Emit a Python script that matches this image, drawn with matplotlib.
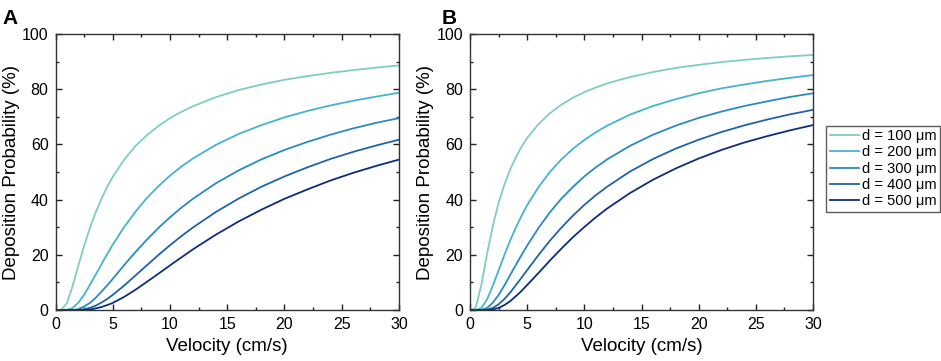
import matplotlib.pyplot as plt
from matplotlib.ticker import MultipleLocator

plt.rcParams['font.family'] = ['Liberation Sans', 'DejaVu Sans']

# Velocity grid (cm/s)
velocity = [0, 0.5, 1, 1.5, 2, 2.5, 3, 3.5, 4, 4.5, 5, 6, 7, 8, 9, 10, 11, 12,
            14, 16, 18, 20, 22, 24, 26, 28, 30]

labels = ['d = 100 \u03bcm', 'd = 200 \u03bcm', 'd = 300 \u03bcm', 'd = 400 \u03bcm', 'd = 500 \u03bcm']

# Panel A deposition probability (%)
a_d100 = [0, 0.07, 2.6, 8.8, 16.2, 23.3, 29.7, 35.3, 40.2, 44.5, 48.3, 54.5, 59.5, 63.4, 66.7, 69.5, 71.8, 73.8,
          77.1, 79.7, 81.7, 83.4, 84.7, 85.9, 86.9, 87.8, 88.6]
a_d200 = [0, 0, 0.07, 0.8, 2.7, 5.6, 9.1, 12.8, 16.5, 20.2, 23.7, 30.1, 35.7, 40.7, 44.9, 48.7, 52.0, 54.9,
          59.8, 63.8, 67.0, 69.8, 72.1, 74.1, 75.8, 77.3, 78.7]
a_d300 = [0, 0, 0, 0, 0.4, 1.3, 2.6, 4.4, 6.6, 8.9, 11.3, 16.3, 21.1, 25.6, 29.8, 33.6, 37.1, 40.3,
          45.9, 50.6, 54.6, 58.0, 60.9, 63.5, 65.8, 67.8, 69.5]
a_d400 = [0, 0, 0, 0, 0.07, 0.3, 0.8, 1.6, 2.7, 4.0, 5.5, 8.9, 12.6, 16.3, 20.0, 23.5, 26.8, 29.9,
          35.5, 40.4, 44.7, 48.4, 51.7, 54.7, 57.3, 59.6, 61.7]
a_d500 = [0, 0, 0, 0, 0, 0.07, 0.2, 0.6, 1.1, 1.8, 2.6, 4.8, 7.4, 10.3, 13.2, 16.2, 19.1, 22.0,
          27.3, 32.1, 36.4, 40.3, 43.7, 46.9, 49.7, 52.2, 54.5]

# Panel B deposition probability (%)
b_d100 = [0, 0.9, 9.3, 20.6, 30.6, 38.8, 45.4, 50.8, 55.3, 59.1, 62.3, 67.4, 71.3, 74.4, 76.9, 78.9, 80.6, 82.1,
          84.4, 86.2, 87.7, 88.8, 89.8, 90.6, 91.3, 91.9, 92.4]
b_d200 = [0, 0, 0.8, 4.0, 8.9, 14.4, 19.9, 25.1, 29.8, 34.1, 38.0, 44.6, 50.1, 54.6, 58.4, 61.6, 64.4, 66.8,
          70.8, 73.9, 76.4, 78.5, 80.3, 81.7, 83.0, 84.1, 85.1]
b_d300 = [0, 0, 0.07, 0.8, 2.7, 5.5, 8.9, 12.6, 16.3, 19.9, 23.4, 29.8, 35.5, 40.4, 44.6, 48.4, 51.7, 54.6,
          59.5, 63.5, 66.8, 69.6, 71.9, 73.9, 75.6, 77.2, 78.5]
b_d400 = [0, 0, 0, 0.16, 0.8, 2.1, 4.0, 6.3, 9.0, 11.7, 14.5, 20.0, 25.2, 29.9, 34.2, 38.1, 41.6, 44.7,
          50.2, 54.7, 58.5, 61.7, 64.5, 66.9, 69.0, 70.9, 72.5]
b_d500 = [0, 0, 0, 0, 0.25, 0.8, 1.8, 3.2, 5.0, 6.9, 9.1, 13.5, 18.0, 22.3, 26.4, 30.1, 33.6, 36.8,
          42.4, 47.2, 51.3, 54.9, 58.0, 60.7, 63.0, 65.1, 67.0]

colors = ['#7fcdc4', '#45b3d0', '#2a8bbf', '#1f63a8', '#0d2e7a']

fig = plt.figure(figsize=(9.41, 3.61), dpi=100)
ax_a = fig.add_axes([0.059, 0.141, 0.365, 0.765])
ax_b = fig.add_axes([0.4995, 0.141, 0.3645, 0.765])

panels = [(ax_a, [a_d100, a_d200, a_d300, a_d400, a_d500]),
          (ax_b, [b_d100, b_d200, b_d300, b_d400, b_d500])]

for ax, series in panels:
    for vals, c, lab in zip(series, colors, labels):
        ax.plot(velocity, vals, color=c, lw=1.3, label=lab)
    ax.set_xlim(0, 30)
    ax.set_ylim(0, 100)
    ax.xaxis.set_major_locator(MultipleLocator(5))
    ax.xaxis.set_minor_locator(MultipleLocator(2.5))
    ax.yaxis.set_major_locator(MultipleLocator(20))
    ax.yaxis.set_minor_locator(MultipleLocator(10))
    ax.tick_params(which='both', direction='in', top=True, right=True, width=1, colors='#222222',
                   labelcolor='black', labelsize=11.5, pad=5)
    ax.tick_params(which='major', length=4.5)
    ax.tick_params(which='minor', length=2.5)
    for sp in ax.spines.values():
        sp.set_color('#333333')
        sp.set_linewidth(1)
    ax.set_xlabel('Velocity (cm/s)', fontsize=13.5, labelpad=4)
    ax.set_ylabel('Deposition Probability (%)', fontsize=13.5, labelpad=1.5)

fig.text(0.003, 0.975, 'A', fontsize=15, fontweight='bold', va='top')
fig.text(0.469, 0.975, 'B', fontsize=15, fontweight='bold', va='top')

handles, labs = ax_b.get_legend_handles_labels()
fig.legend(handles, labs, loc='upper left', bbox_to_anchor=(0.878, 0.652), bbox_transform=fig.transFigure,
           frameon=True, fancybox=False, edgecolor='#333333', fontsize=10.5, handlelength=2.0,
           borderpad=0.25, labelspacing=0.15, handletextpad=0.2, borderaxespad=0)

fig.savefig('out.png', dpi=100)
